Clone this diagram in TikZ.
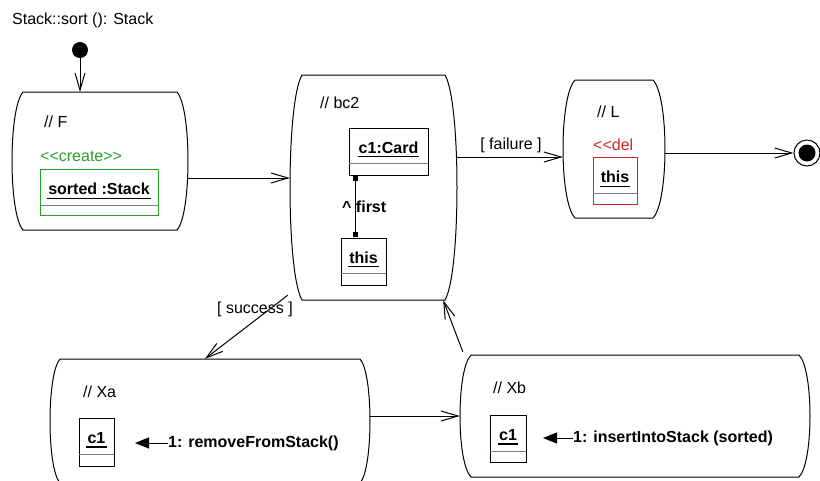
\documentclass[tikz,border=0pt]{standalone}
\usepackage{fontspec}
\setmainfont{Liberation Sans}
\usetikzlibrary{arrows.meta,fit,calc}

\definecolor{umlgreen}{RGB}{40,160,40}
\definecolor{umlred}{RGB}{210,40,40}
\definecolor{sepgray}{RGB}{120,120,170}

% guillemet-style stereotype brackets kept as plain characters
\newcommand\stOpen{<{}<}
\newcommand\stClose{>{}>}

\tikzset{
  every node/.style={font=\fontsize{16}{19}\selectfont, inner sep=0pt},
  statebody/.style={draw, line width=1pt},
  trans/.style={draw, line width=1pt,
    -{Straight Barb[length=17pt,width=10pt,line width=1pt]}},
  msg/.style={draw, line width=1pt, -{Triangle[length=14pt,width=11pt]}},
  objname/.style={font=\bfseries\fontsize{16}{19}\selectfont},
  sepline/.style={draw=sepgray, line width=1pt},
  ulinestyle/.style={line width=1.4pt},
}

% barrel-shaped state: name, left, top, right, bottom, corner inset
\newcommand\barrel[6]{%
  \node[fit={(#2,#3) (#4,#5)}] (#1) {};
  \draw[statebody] ({#2+#6},#3) -- ({#4-#6},#3)
    .. controls ({#4+#6/3},{#3+0.12*(#5-#3)}) and ({#4+#6/3},{#5-0.12*(#5-#3)}) .. ({#4-#6},#5)
    -- ({#2+#6},#5)
    .. controls ({#2-#6/3},{#5-0.12*(#5-#3)}) and ({#2-#6/3},{#3+0.12*(#5-#3)}) .. ({#2+#6},#3)
    -- cycle;
}

% object box: name, left, top, right, bottom, separator y, label, frame colour
\newcommand\objbox[8]{%
  \node[fit={(#2,#3) (#4,#5)}, draw=#8, line width=1pt] (#1) {};
  \draw[sepline] (#2,#6) -- (#4,#6);
  \node[objname] (#1-t) at ({(#2+#4)/2},{(#3+#6)/2+2}) {#7};
  \draw[ulinestyle] ([xshift=-1pt,yshift=-3.5pt]#1-t.base west) -- ([xshift=1pt,yshift=-3.5pt]#1-t.base east);
}

\begin{document}
\begin{tikzpicture}[x=1pt,y=-1pt]
  \useasboundingbox (0,0) rectangle (820,480);
  \fill[white] (0,0) rectangle (820,480);

  \node[anchor=west] (title) at (12,20) {Stack::sort (): Stack};

  % pseudo states
  \node[circle, fill, minimum size=16pt] (init) at (80,50) {};
  \node[circle, draw, line width=1pt, minimum size=26pt] (fin) at (807,153) {};
  \node[circle, fill, minimum size=17pt] (finDot) at (fin.center) {};

  % states
  \barrel{F}{12}{92}{188}{230}{11}
  \barrel{bc2}{290}{75}{457}{300}{12}
  \barrel{L}{563}{80}{665}{218}{12}
  \barrel{Xa}{50}{359}{370}{483}{10}
  \barrel{Xb}{460}{355}{810}{477}{11}

  % state F
  \node[anchor=west] (Fname) at (44,122) {// F};
  \node[anchor=west, text=umlgreen] (Fst) at (40,156) {\stOpen create\stClose};
  \objbox{sorted}{40}{169}{158}{215}{205}{sorted :Stack}{umlgreen}

  % state bc2
  \node[anchor=west] (bc2name) at (320,103) {// bc2};
  \objbox{card}{349}{128}{428}{175}{163}{c1:Card}{black}
  \objbox{thisA}{341}{238}{386}{285}{273}{this}{black}
  \node[fill, minimum size=5pt, anchor=north] (sqTop) at ([xshift=-33.5pt]card.south) {};
  \node[fill, minimum size=5pt, anchor=south] (sqBot) at ([xshift=-8.5pt]thisA.north) {};
  \draw[line width=1pt] (sqTop) -- (sqBot);
  \node[anchor=west, objname] (role) at (342,207) {\textasciicircum\ first};

  % state L
  \node[anchor=west] (Lname) at (597,112) {// L};
  \node[anchor=west, text=umlred] (Lst) at (593,145) {\stOpen del};
  \objbox{thisL}{593}{157}{637}{204}{193}{this}{umlred}

  % state Xa
  \node[anchor=west] (Xaname) at (83,392) {// Xa};
  \objbox{c1a}{79}{418}{114}{466}{454}{c1}{black}
  \node[anchor=west, objname] (m1) at (168,443) {1: removeFromStack()};
  \coordinate (m1tip) at (135,443);
  \draw[msg] (m1.west) -- (m1tip);

  % state Xb
  \node[anchor=west] (Xbname) at (493,388) {// Xb};
  \objbox{c1b}{490}{415}{526}{462}{451}{c1}{black}
  \node[anchor=west, objname] (m2) at (573,438) {1: insertIntoStack (sorted)};
  \coordinate (m2tip) at (543,438);
  \draw[msg] (m2.west) -- (m2tip);

  % transitions
  \draw[trans] (init.south) -- (init.south |- F.north);
  \draw[trans] (F.east |- 0,178) -- (bc2.west |- 0,178);
  \draw[trans] (bc2.east |- 0,157) -- (L.west |- 0,157);
  \node (fail) at (511,145) {[ failure ]};
  \draw[trans] (L.east |- fin.west) -- (fin.west);
  \draw[trans] ([shift={(-2,-5)}]bc2.south west) -- ([xshift=-5pt]Xa.north);
  \node (succ) at (255,309) {[ success ]};
  \draw[trans] (Xa.east |- 0,416) -- (Xb.west |- 0,416);
  \draw[trans] ([xshift=3pt,yshift=3pt]Xb.north west) -- ([xshift=-14pt]bc2.south east);
\end{tikzpicture}
\end{document}
